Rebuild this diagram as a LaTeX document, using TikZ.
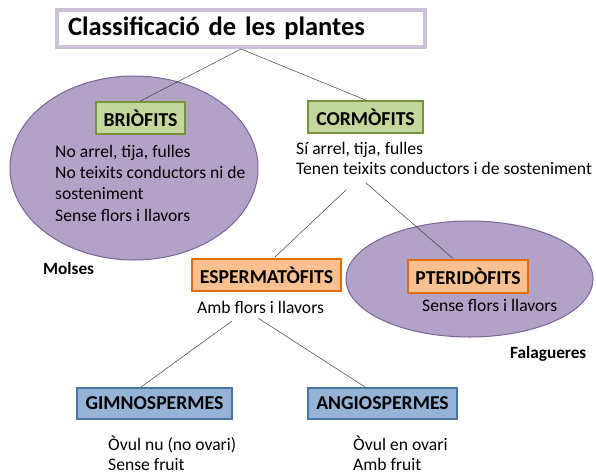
\documentclass[tikz,border=0pt]{standalone}
\usepackage{fontspec}
\setmainfont{Carlito}
\usetikzlibrary{shapes.geometric,calc}
\definecolor{titleborder}{HTML}{CCC0DA}
\definecolor{ellfill}{HTML}{B3A2C7}
\definecolor{elldraw}{HTML}{7B6597}
\definecolor{grfill}{HTML}{C3D69B}
\definecolor{grdraw}{HTML}{77933C}
\definecolor{orfill}{HTML}{FAC090}
\definecolor{ordraw}{HTML}{E46C0A}
\definecolor{blfill}{HTML}{95B3D7}
\definecolor{bldraw}{HTML}{4A74A8}
\begin{document}
\begin{tikzpicture}[x=1pt,y=-1pt,
  box/.style={rectangle, line width=2pt, inner sep=0pt, font=\fontsize{19.7}{22}\selectfont\bfseries},
  greenbox/.style={box, fill=grfill, draw=grdraw},
  orangebox/.style={box, fill=orfill, draw=ordraw},
  bluebox/.style={box, fill=blfill, draw=bldraw},
  blob/.style={ellipse, fill=ellfill, draw=elldraw, line width=1pt, inner sep=0pt},
  body/.style={anchor=base west, align=left, inner sep=0pt, font=\fontsize{17.6}{21.3}\selectfont},
  tag/.style={anchor=base west, inner sep=0pt, font=\fontsize{17.2}{20}\selectfont\bfseries},
  conn/.style={draw=black!75, line width=0.5pt}]
\useasboundingbox (0,0) rectangle (596,474);

% title
\node[rectangle, draw=titleborder, line width=4pt, fill=white, minimum width=368pt, minimum height=37pt,
      text width=346pt, inner xsep=11pt, align=left, font=\fontsize{26.5}{30}\selectfont\bfseries]
  (title) at (241,28.5) {Classificació de les plantes};

% ellipses
\node[blob, minimum width=248pt, minimum height=184pt] (ellL) at (134,168) {};
\node[blob, minimum width=247pt, minimum height=116pt] (ellR) at (469.5,279) {};

% boxes
\node[greenbox, minimum width=89pt, minimum height=32pt] (brio) at (140.5,118) {BRIÒFITS};
\node[greenbox, minimum width=115pt, minimum height=32pt] (corm) at (365.5,117) {CORMÒFITS};
\node[orangebox, minimum width=149pt, minimum height=32pt] (esp) at (266.5,275) {ESPERMATÒFITS};
\node[orangebox, minimum width=120pt, minimum height=33pt] (pter) at (468,276) {PTERIDÒFITS};
\node[bluebox, minimum width=155pt, minimum height=31pt] (gim) at (154.5,403.5) {GIMNOSPERMES};
\node[bluebox, minimum width=149pt, minimum height=31pt] (ang) at (382.5,403.5) {ANGIOSPERMES};

% texts (base west = baseline of the last line)
\node[body] (brioT) at (55,221) {No arrel, tija, fulles\\No teixits conductors ni de\\sosteniment\\Sense flors i llavors};
\node[body, font=\fontsize{17.6}{20}\selectfont] (cormT) at (296,174) {Sí arrel, tija, fulles\\Tenen teixits conductors i de sosteniment};
\node[body] (espT) at (197,313) {Amb flors i llavors};
\node[body] (pterT) at (422,311) {Sense flors i llavors};
\node[body, font=\fontsize{17.6}{20.5}\selectfont] (gimT) at (108,470.5) {Òvul nu (no ovari)\\Sense fruit};
\node[body, font=\fontsize{17.6}{20.5}\selectfont] (angT) at (353,470.5) {Òvul en ovari\\Amb fruit};

\node[tag] (molses) at (43,274) {Molses};
\node[tag] (falag) at (510,358) {Falagueres};

% connectors
\draw[conn] (title.south) -- (brio.north);
\draw[conn] (title.south) -- (corm.north);
\coordinate (c1) at ($(cormT.base west)+(50,16)$);
\coordinate (c2) at ($(cormT.base west)+(70,9)$);
\draw[conn] (c1) -- ($(esp.north)+(8.5,-1)$);
\draw[conn] (c2) -- ($(pter.north)+(-15,0)$);
\coordinate (e1) at ($(espT.base west)+(35,8)$);
\coordinate (e2) at ($(espT.base west)+(61,5)$);
\draw[conn] (e1) -- ($(gim.north)+(-13.5,0)$);
\draw[conn] (e2) -- ($(ang.north)+(-17.5,0)$);
\end{tikzpicture}
\end{document}
